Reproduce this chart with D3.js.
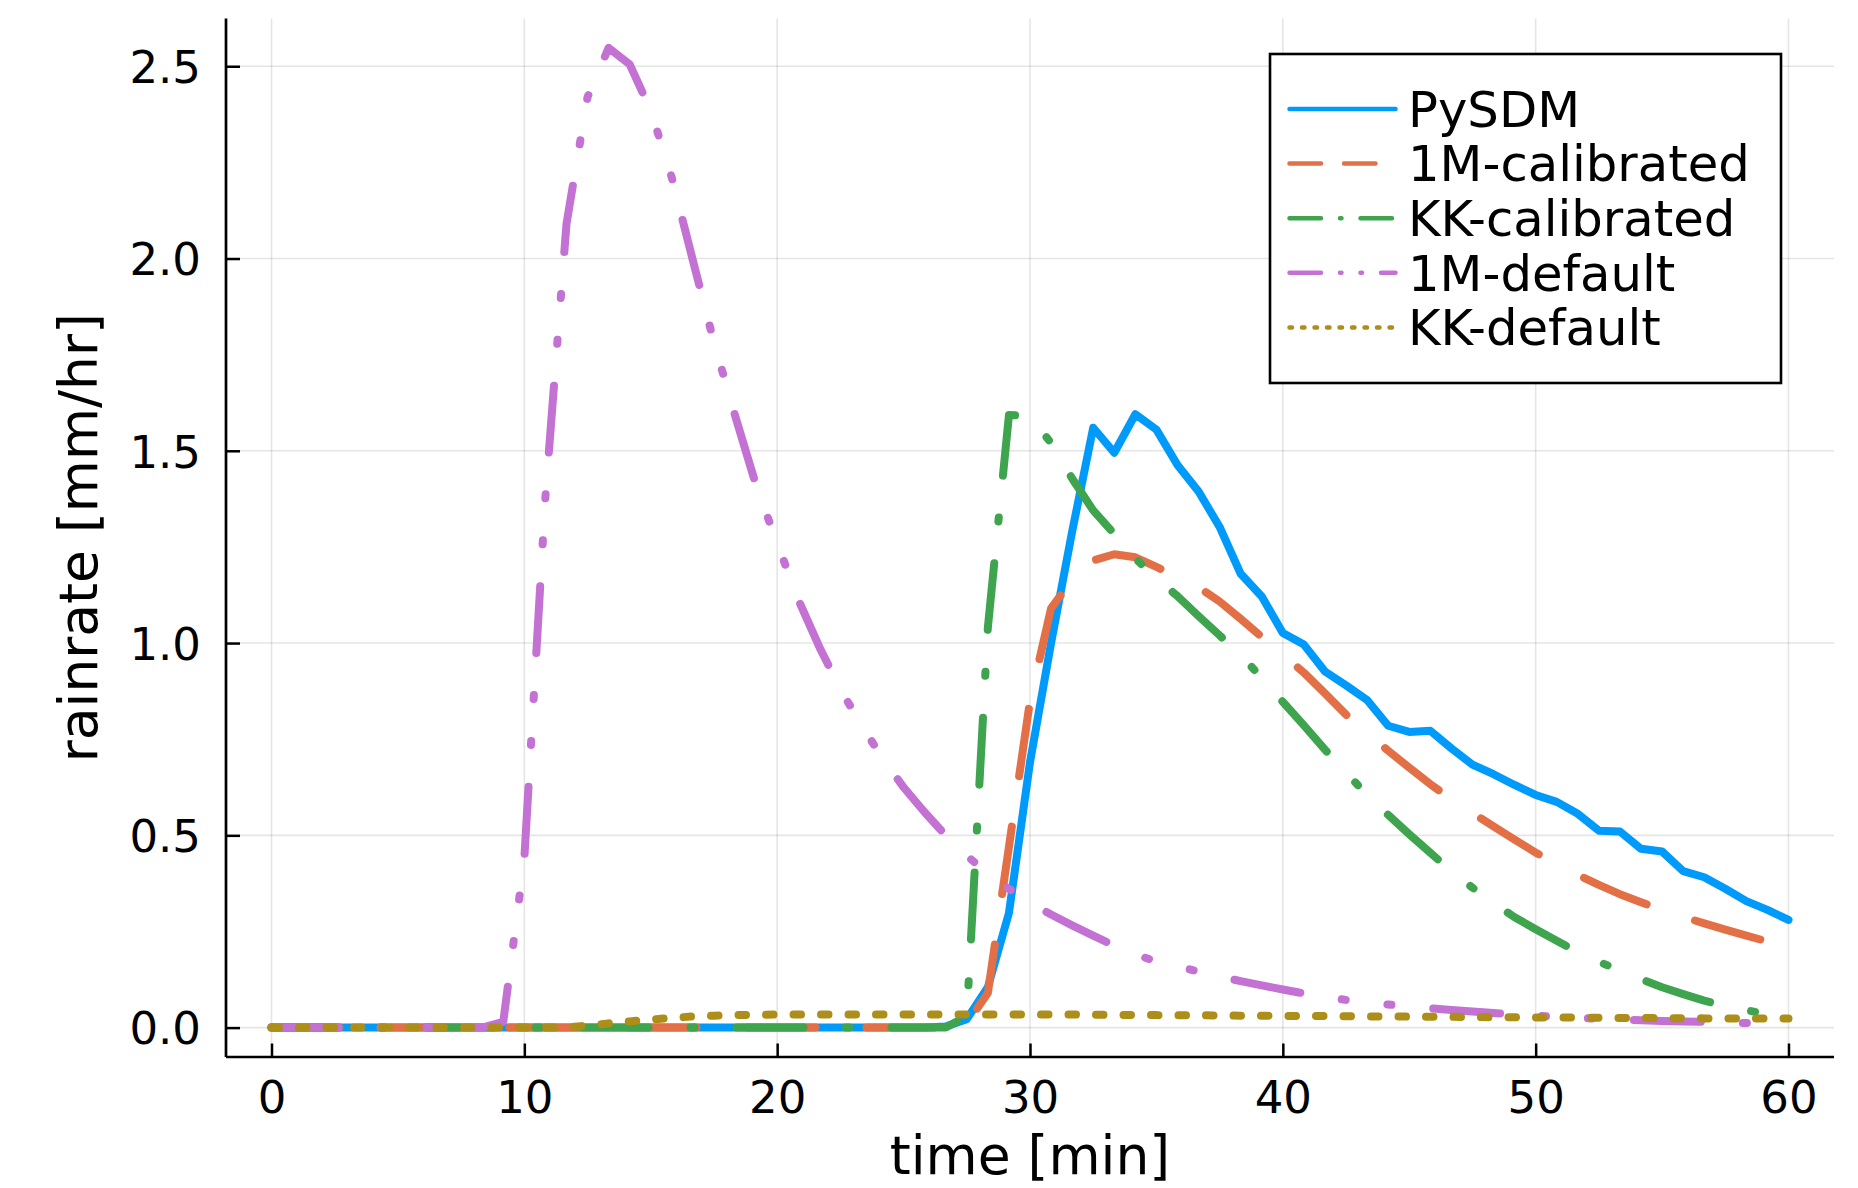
<!DOCTYPE html>
<html>
<head>
<meta charset="utf-8">
<script src="https://cdn.jsdelivr.net/npm/d3@7"></script>
<style>
  html, body { margin: 0; padding: 0; background: #fff; }
  svg { display: block; font-family: "DejaVu Sans", sans-serif; }
</style>
</head>
<body>
<svg id="chart" width="1858" height="1188"></svg>
<script>
// time of each output step [min]
const time = [
  0, 0.833, 1.667, 2.5, 3.333, 4.167, 5, 5.833, 6.667, 7.5, 8.333, 9.167,
  10, 10.833, 11.667, 12.5, 13.333, 14.167, 15, 15.833, 16.667, 17.5, 18.333, 19.167,
  20, 20.833, 21.667, 22.5, 23.333, 24.167, 25, 25.833, 26.667, 27.5, 28.333, 29.167,
  30, 30.833, 31.667, 32.5, 33.333, 34.167, 35, 35.833, 36.667, 37.5, 38.333, 39.167,
  40, 40.833, 41.667, 42.5, 43.333, 44.167, 45, 45.833, 46.667, 47.5, 48.333, 49.167,
  50, 50.833, 51.667, 52.5, 53.333, 54.167, 55, 55.833, 56.667, 57.5, 58.333, 59.167,
  60
];

// surface rain rate [mm/hr]
const pysdm = [
  0, 0, 0, 0, 0, 0, 0, 0, 0, 0, 0, 0,
  0, 0, 0, 0, 0, 0, 0, 0, 0, 0, 0, 0,
  0, 0, 0, 0, 0, 0, 0, 0, 0.003, 0.022, 0.105, 0.298,
  0.69, 1.0, 1.29, 1.56, 1.495, 1.595, 1.555, 1.463, 1.394, 1.302, 1.18, 1.121,
  1.026, 0.996, 0.926, 0.89, 0.852, 0.785, 0.769, 0.772, 0.726, 0.684, 0.659, 0.631,
  0.605, 0.587, 0.556, 0.512, 0.51, 0.465, 0.458, 0.407, 0.391, 0.361, 0.329, 0.306,
  0.28
];

const oneMCalibrated = [
  0, 0, 0, 0, 0, 0, 0, 0, 0, 0, 0, 0,
  0, 0, 0, 0, 0, 0, 0, 0, 0, 0, 0, 0,
  0, 0, 0, 0, 0, 0, 0, 0, 0, 0.01, 0.09, 0.47,
  0.85, 1.09, 1.165, 1.215, 1.231, 1.223, 1.198, 1.172, 1.145, 1.108, 1.063, 1.016,
  0.97, 0.923, 0.869, 0.814, 0.766, 0.72, 0.676, 0.633, 0.594, 0.558, 0.523, 0.489,
  0.455, 0.425, 0.397, 0.371, 0.347, 0.326, 0.306, 0.288, 0.271, 0.255, 0.239, 0.224,
  0.21
];

const kkCalibrated = [
  0, 0, 0, 0, 0, 0, 0, 0, 0, 0, 0, 0,
  0, 0, 0, 0, 0, 0, 0, 0, 0, 0, 0, 0,
  0, 0, 0, 0, 0, 0, 0, 0, 0, 0.03, 1.04, 1.593,
  1.591, 1.52, 1.428, 1.345, 1.284, 1.22, 1.168, 1.122, 1.07, 1.02, 0.968, 0.91,
  0.847, 0.786, 0.723, 0.663, 0.605, 0.553, 0.503, 0.455, 0.406, 0.364, 0.324, 0.287,
  0.256, 0.226, 0.196, 0.171, 0.149, 0.126, 0.105, 0.087, 0.07, 0.056, 0.045, 0.035,
  0.026
];

const oneMDefault = [
  0, 0, 0, 0, 0, 0, 0, 0, 0, 0, 0, 0.015,
  0.44, 1.38, 2.09, 2.42, 2.548, 2.505, 2.385, 2.21, 1.995, 1.782, 1.592, 1.41,
  1.26, 1.113, 0.99, 0.88, 0.787, 0.7, 0.625, 0.56, 0.5, 0.447, 0.4, 0.361,
  0.325, 0.294, 0.266, 0.239, 0.213, 0.19, 0.172, 0.159, 0.146, 0.133, 0.121, 0.11,
  0.099, 0.089, 0.08, 0.072, 0.066, 0.06, 0.055, 0.05, 0.046, 0.042, 0.038, 0.034,
  0.031, 0.028, 0.025, 0.023, 0.021, 0.019, 0.017, 0.016, 0.015, 0.013, 0.012, 0.011,
  0.01
];

const kkDefault = [
  0, 0, 0, 0, 0, 0, 0, 0, 0, 0, 0, 0,
  0, 0, 0.001, 0.005, 0.011, 0.016, 0.021, 0.025, 0.029, 0.031, 0.033, 0.033,
  0.034, 0.034, 0.034, 0.034, 0.034, 0.034, 0.034, 0.034, 0.034, 0.034, 0.034, 0.034,
  0.034, 0.034, 0.034, 0.0335, 0.033, 0.033, 0.0325, 0.032, 0.032, 0.0315, 0.031, 0.031,
  0.0305, 0.03, 0.03, 0.0295, 0.029, 0.029, 0.0285, 0.028, 0.028, 0.0275, 0.027, 0.027,
  0.0265, 0.026, 0.026, 0.0255, 0.025, 0.025, 0.0245, 0.0245, 0.024, 0.024, 0.024, 0.024,
  0.024
];

const seriesNames = ["PySDM", "1M-calibrated", "KK-calibrated", "1M-default", "KK-default"];
const xTicks = [0, 10, 20, 30, 40, 50, 60];
const yTicks = [0, 0.5, 1.0, 1.5, 2.0, 2.5];
const xLabel = "time [min]";
const yLabel = "rainrate [mm/hr]";

// styling per series
const styles = [
  { color: "#009AFA", dash: null,                         legendDash: null },
  { color: "#E36F47", dash: "68 51",                      legendDash: "31.5 23" },
  { color: "#3EA44E", dash: "67 42 4 42",                 legendDash: "31.5 19 1.5 19" },
  { color: "#C371D2", dash: "67 42 4 42 4 42",            legendDash: "31.5 19 1.5 19 1.5 19" },
  { color: "#AC8E18", dash: "7.5 20",                     legendDash: "2.5 10" }
];
const seriesValues = [pysdm, oneMCalibrated, kkCalibrated, oneMDefault, kkDefault];

const svg = d3.select("#chart");
const plot = { left: 226, right: 1834, top: 18.4, bottom: 1057 };

// axis limits padded by 3% on each side
const xPad = 0.03 * (d3.max(time) - d3.min(time));
const allVals = seriesValues.flat();
const yMin = d3.min(allVals), yMax = d3.max(allVals);
const yPad = 0.03 * (yMax - yMin);

const x = d3.scaleLinear()
  .domain([d3.min(time) - xPad, d3.max(time) + xPad])
  .range([plot.left, plot.right]);
const y = d3.scaleLinear()
  .domain([yMin - yPad, yMax + yPad])
  .range([plot.bottom, plot.top]);

// grid
const grid = svg.append("g").attr("stroke", "#000").attr("stroke-opacity", 0.1).attr("stroke-width", 1.6);
grid.selectAll("line.gx").data(xTicks).join("line")
  .attr("x1", d => x(d)).attr("x2", d => x(d))
  .attr("y1", plot.top).attr("y2", plot.bottom);
grid.selectAll("line.gy").data(yTicks).join("line")
  .attr("x1", plot.left).attr("x2", plot.right)
  .attr("y1", d => y(d)).attr("y2", d => y(d));

// series
const lineGen = d3.line()
  .x((d, i) => x(time[i]))
  .y(d => y(d));

const linesG = svg.append("g");
seriesValues.forEach((vals, k) => {
  linesG.append("path")
    .datum(vals)
    .attr("d", lineGen)
    .attr("fill", "none")
    .attr("stroke", styles[k].color)
    .attr("stroke-width", 8)
    .attr("stroke-linecap", "round")
    .attr("stroke-linejoin", "round")
    .attr("stroke-dasharray", styles[k].dash);
});

// axes (left and bottom only, ticks pointing inward)
const xAxis = d3.axisBottom(x).tickValues(xTicks).tickFormat(d3.format("d"))
  .tickSizeInner(-13.5).tickSizeOuter(0).tickPadding(0);
const yAxis = d3.axisLeft(y).tickValues(yTicks).tickFormat(d3.format(".1f"))
  .tickSizeInner(-14).tickSizeOuter(0).tickPadding(0);

const gx = svg.append("g").attr("transform", `translate(0,${plot.bottom})`).call(xAxis);
const gy = svg.append("g").attr("transform", `translate(${plot.left},0)`).call(yAxis);

[gx, gy].forEach(g => {
  g.select(".domain").attr("stroke", "#000").attr("stroke-width", 2.7);
  g.selectAll(".tick line").attr("stroke", "#000").attr("stroke-width", 2.5);
  g.selectAll(".tick text").attr("fill", "#000")
    .style("font-family", "'DejaVu Sans', sans-serif").style("font-size", "45px");
});
gx.select(".domain").attr("d", `M${plot.left},0H${plot.right}`);
gy.select(".domain").attr("d", `M0,${plot.top}V${plot.bottom}`);
gx.selectAll(".tick text").attr("y", 56).attr("dy", null);
gy.selectAll(".tick text").attr("x", -25).attr("dy", "16.3px");

// axis titles
svg.append("text")
  .attr("x", (plot.left + plot.right) / 2).attr("y", 1174)
  .attr("text-anchor", "middle")
  .style("font-size", "53.5px").attr("fill", "#000")
  .text(xLabel);
svg.append("text")
  .attr("transform", `translate(97,${(plot.top + plot.bottom) / 2}) rotate(-90)`)
  .attr("text-anchor", "middle")
  .style("font-size", "53.5px").attr("fill", "#000")
  .text(yLabel);

// legend
const legend = svg.append("g");
legend.append("rect")
  .attr("x", 1270).attr("y", 54).attr("width", 511).attr("height", 329)
  .attr("fill", "#fff").attr("stroke", "#000").attr("stroke-width", 2.6);
const rowY = i => 109 + i * 54.6;
seriesNames.forEach((name, i) => {
  legend.append("line")
    .attr("x1", 1289.5).attr("x2", 1395.5)
    .attr("y1", rowY(i)).attr("y2", rowY(i))
    .attr("stroke", styles[i].color)
    .attr("stroke-width", 4.5)
    .attr("stroke-linecap", "round")
    .attr("stroke-dasharray", styles[i].legendDash);
  legend.append("text")
    .attr("x", 1408).attr("y", rowY(i) + 17.8)
    .style("font-size", "49.7px").attr("fill", "#000")
    .text(name);
});
</script>
</body>
</html>
